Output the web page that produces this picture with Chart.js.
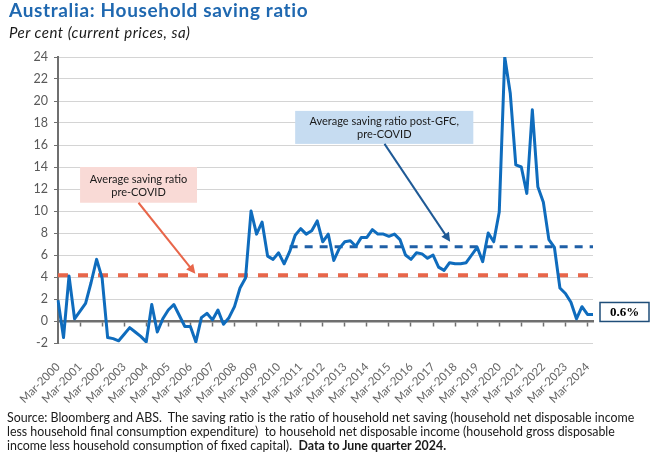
<!DOCTYPE html>
<html>
<head>
<meta charset="utf-8">
<script src="https://cdn.jsdelivr.net/npm/chart.js@4/dist/chart.umd.min.js"></script>
<style>
  html, body { margin:0; padding:0; background:#fff; }
  #wrap { position:relative; width:650px; height:455px; overflow:hidden; font-family:Lato, "Open Sans", sans-serif; }
  #c { position:absolute; left:0; top:0; }
  #title { position:absolute; left:9px; top:-2px; font-size:19px; letter-spacing:0.65px; font-weight:bold; color:#1f68b0; line-height:24px; white-space:nowrap; }
  #subtitle { position:absolute; left:9px; top:23px; font-size:15px; letter-spacing:0.5px; font-style:italic; color:#1a1a1a; line-height:18px; white-space:nowrap; }
  #note { position:absolute; left:7px; top:411px; font-size:12.4px; color:#1a1a1a; line-height:14px; white-space:pre; }
</style>
</head>
<body>
<div id="wrap">
  <canvas id="c" width="650" height="455"></canvas>
  <div id="title">Australia: Household saving ratio</div>
  <div id="subtitle">Per cent (current prices, sa)</div>
  <div id="note">Source: Bloomberg and ABS.  The saving ratio is the ratio of household net saving (household net disposable income
less household final consumption expenditure)  to household net disposable income (household gross disposable
income less household consumption of fixed capital).  <b>Data to June quarter 2024.</b></div>
</div>
<script>
// ---- data ----
const years = [2000,2001,2002,2003,2004,2005,2006,2007,2008,2009,2010,2011,2012,2013,2014,2015,2016,2017,2018,2019,2020,2021,2022,2023,2024];
const months = ['Mar','Jun','Sep','Dec'];
const quarters = [];
years.forEach(y => months.forEach(m => { if (!(y === 2024 && (m === 'Sep' || m === 'Dec'))) quarters.push(m + '-' + y); }));

const savingRatio = [
  1.9, -1.5, 4.1, 0.2, 0.9, 1.6, 3.5, 5.6,      // 2000-2001
  3.9, -1.5, -1.6, -1.8, -1.2, -0.6, -1.0, -1.4, // 2002-2003
  -1.9, 1.5, -1.0, 0.2, 1.0, 1.5, 0.5, -0.5,     // 2004-2005
  -0.5, -1.9, 0.3, 0.7, 0.1, 1.0, -0.3, 0.3,     // 2006-2007
  1.3, 3.0, 3.9, 10.0, 7.9, 9.0, 5.9, 5.6,       // 2008-2009
  6.2, 5.2, 6.3, 7.8, 8.4, 7.9, 8.2, 9.1,        // 2010-2011
  7.2, 7.9, 5.5, 6.6, 7.2, 7.3, 6.8, 7.6,        // 2012-2013
  7.6, 8.3, 7.9, 7.9, 7.7, 7.9, 7.4, 6.0,        // 2014-2015
  5.6, 6.2, 6.1, 5.7, 6.0, 4.9, 4.6, 5.3,        // 2016-2017
  5.2, 5.2, 5.3, 6.0, 6.7, 5.4, 8.0, 7.2,        // 2018-2019
  9.9, 24.0, 20.7, 14.2, 14.0, 11.6, 19.2, 12.2, // 2020-2021
  10.8, 7.4, 6.7, 3.0, 2.5, 1.7, 0.2, 1.3,       // 2022-2023
  0.6, 0.6                                       // 2024
];

const preCovidAvg = 4.15;          // average saving ratio pre-COVID
const postGfcAvg = 6.75;           // average saving ratio post-GFC, pre-COVID
const postGfcStartLabel = 'Sep-2010';

const tickLabels = years.map(y => 'Mar-' + y);
const yTicks = [-2,0,2,4,6,8,10,12,14,16,18,20,22,24];

const preCovidSeries = quarters.map(() => preCovidAvg);
const postGfcStart = quarters.indexOf(postGfcStartLabel);
const postGfcSeries = quarters.map((q, i) => i >= postGfcStart ? postGfcAvg : null);

const FONT = 'Lato, "Open Sans", sans-serif';

// ---- annotation plugin (positions in data coordinates) ----
const annotationPlugin = {
  id: 'notes',
  afterDatasetsDraw(chart, args, opts) {
    const ctx = chart.ctx, xs = chart.scales.x, ys = chart.scales.y;
    ctx.save();
    (opts.boxes || []).forEach(b => {
      const x1 = xs.getPixelForValue(b.xMin), x2 = xs.getPixelForValue(b.xMax);
      const y1 = ys.getPixelForValue(b.yMax), y2 = ys.getPixelForValue(b.yMin);
      ctx.fillStyle = b.fill;
      ctx.fillRect(x1, y1, x2 - x1, y2 - y1);
      ctx.fillStyle = '#1a1a1a';
      ctx.font = b.font;
      ctx.textAlign = 'center';
      ctx.textBaseline = 'middle';
      const cx = (x1 + x2) / 2;
      b.lines.forEach((t, k) => ctx.fillText(t, cx, ys.getPixelForValue(b.lineY[k])));
    });
    (opts.arrows || []).forEach(a => {
      const x1 = xs.getPixelForValue(a.from[0]), y1 = ys.getPixelForValue(a.from[1]);
      const x2 = xs.getPixelForValue(a.to[0]), y2 = ys.getPixelForValue(a.to[1]);
      const ang = Math.atan2(y2 - y1, x2 - x1);
      const L = a.head;
      ctx.strokeStyle = a.color; ctx.fillStyle = a.color; ctx.lineWidth = a.width;
      ctx.beginPath();
      ctx.moveTo(x1, y1);
      ctx.lineTo(x2 - Math.cos(ang) * L * 0.8, y2 - Math.sin(ang) * L * 0.8);
      ctx.stroke();
      ctx.beginPath();
      ctx.moveTo(x2, y2);
      ctx.lineTo(x2 - L * Math.cos(ang) + L * 0.5 * Math.sin(ang), y2 - L * Math.sin(ang) - L * 0.5 * Math.cos(ang));
      ctx.lineTo(x2 - L * Math.cos(ang) - L * 0.5 * Math.sin(ang), y2 - L * Math.sin(ang) + L * 0.5 * Math.cos(ang));
      ctx.closePath();
      ctx.fill();
    });
    // last value label to the right of the plot
    const lv = opts.lastValue;
    if (lv) {
      const last = savingRatio[savingRatio.length - 1];
      const yc = ys.getPixelForValue(last + lv.dy);
      const x1 = chart.chartArea.right + lv.gap;
      ctx.fillStyle = '#fff';
      ctx.fillRect(x1, yc - lv.h / 2, lv.w, lv.h);
      ctx.strokeStyle = '#1f4e79'; ctx.lineWidth = 1.5;
      ctx.strokeRect(x1, yc - lv.h / 2, lv.w, lv.h);
      ctx.fillStyle = '#000';
      ctx.font = 'bold 13px "Liberation Serif", "DejaVu Serif", serif';
      ctx.textAlign = 'center'; ctx.textBaseline = 'middle';
      ctx.fillText(last.toFixed(1) + '%', x1 + lv.w / 2, yc + 1);
    }
    ctx.restore();
  }
};

new Chart(document.getElementById('c'), {
  type: 'line',
  data: {
    labels: quarters,
    datasets: [
      { label: 'Household saving ratio', data: savingRatio, borderColor: '#0f6cbd', borderWidth: 3, pointRadius: 0, tension: 0, order: 0, borderJoinStyle: 'round' },
      { label: 'Average saving ratio post-GFC, pre-COVID', data: postGfcSeries, borderColor: '#1f5fa6', borderWidth: 3, borderDash: [8, 7], pointRadius: 0, order: 1 },
      { label: 'Average saving ratio pre-COVID', data: preCovidSeries, borderColor: '#e8664a', borderWidth: 4, borderDash: [10, 10], pointRadius: 0, order: 2 }
    ]
  },
  options: {
    responsive: false,
    animation: false,
    layout: { padding: { top: 57, right: 57, left: 0, bottom: 0 } },
    plugins: {
      legend: { display: false },
      tooltip: { enabled: false },
      notes: {
        boxes: [
          { xMin: 4, xMax: 25.2, yMin: 10.75, yMax: 14.0, fill: '#f9dad6', font: '11px ' + FONT,
            lines: ['Average saving ratio', 'pre-COVID'], lineY: [12.9, 11.65] },
          { xMin: 43, xMax: 75.3, yMin: 16.1, yMax: 19.1, fill: '#c6dcf1', font: '11px ' + FONT,
            lines: ['Average saving ratio post-GFC,', 'pre-COVID'], lineY: [18.1, 17.0] }
        ],
        arrows: [
          { from: [14.6, 10.75], to: [24.9, 4.3], color: '#e8664a', width: 2, head: 9 },
          { from: [59.2, 16.1], to: [71.1, 7.2], color: '#1f5a96', width: 2, head: 9 }
        ],
        lastValue: { gap: 7, w: 49, h: 19, dy: 0.22 }
      }
    },
    scales: {
      x: {
        type: 'category', position: 'bottom', offset: false,
        grid: { display: false }, border: { display: false },
        ticks: {
          autoSkip: false, minRotation: 45, maxRotation: 45, padding: 9,
          color: '#666666', font: { family: FONT, size: 11.5 },
          callback: (v, i) => tickLabels.includes(quarters[i]) ? quarters[i] : null
        },
        afterFit: s => { s.height = 112; }
      },
      x0: {
        type: 'category', axis: 'x', position: { y: 0 }, offset: false,
        grid: { drawOnChartArea: false, drawTicks: true, tickLength: 4, tickWidth: 1.5,
                tickColor: c => (tickLabels.includes(quarters[c.index]) && c.index > 0) ? '#6f6f6f' : 'rgba(0,0,0,0)' },
        border: { color: '#6f6f6f', width: 2.5 },
        ticks: { display: false, autoSkip: false }
      },
      y: {
        min: -2, max: 24,
        afterBuildTicks: s => { s.ticks = yTicks.map(v => ({ value: v })); },
        ticks: { color: '#595959', font: { family: FONT, size: 12.5 }, padding: 6 },
        grid: { color: c => c.tick && c.tick.value === 0 ? '#6f6f6f' : '#d4d4d4', lineWidth: 1, tickLength: 4, tickColor: '#6f6f6f' },
        border: { color: '#6f6f6f', width: 2 },
        afterFit: s => { s.width = 58; }
      }
    }
  },
  plugins: [annotationPlugin]
});
</script>
</body>
</html>
